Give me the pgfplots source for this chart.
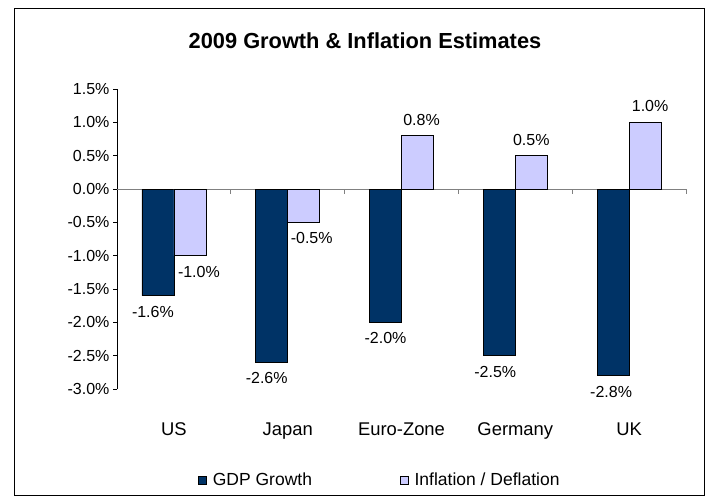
\documentclass[border=0pt]{standalone}
\usepackage{fontspec}
\setmainfont{Liberation Sans}
\usepackage{pgfplots}
\pgfplotsset{compat=1.18}
\usepackage{pgfplotstable}
\definecolor{gdpc}{HTML}{003366}
\definecolor{inflc}{HTML}{CCCCFF}

\pgfplotstableread{
x y dx
0 -1.6 -5
1 -2.6 -5
2 -2.0 0
3 -2.5 -4
4 -2.8 -2
}\gdptab
\pgfplotstableread{
x y dx
0 -1.0 9
1 -0.5 8
2 0.8 4
3 0.5 0
4 1.0 5
}\infltab

\begin{document}
\begin{tikzpicture}[x=1pt,y=1pt]
\path (0,0) rectangle (715,-501);
\draw[black, line width=1pt] (14,-8) rectangle (704,-495);
\node[font=\bfseries\fontsize{21.8}{26}\selectfont] at (365,-41) {2009 Growth \& Inflation Estimates};
\begin{axis}[
  at={(117pt,-389pt)}, anchor=south west,
  scale only axis, width=569pt, height=300pt,
  xmin=-0.5, xmax=4.5, ymin=-3, ymax=1.5,
  clip=false,
  axis x line*=bottom, axis y line*=left,
  x axis line style={draw=none},
  y axis line style={black, line width=0.8pt},
  xtick={0,1,2,3,4},
  xticklabels={US,Japan,Euro-Zone,Germany,UK},
  xtick style={draw=none},
  xticklabel style={font=\fontsize{18.4}{22}\selectfont, anchor=base, yshift=-42pt},
  ytick={-3,-2.5,-2,-1.5,-1,-0.5,0,0.5,1,1.5},
  ytick style={black, line width=0.8pt},
  tick align=outside, major tick length=4pt,
  /pgf/number format/assume math mode=true,
  yticklabel={\pgfmathprintnumber[fixed,fixed zerofill,precision=1]{\tick}\%},
  yticklabel style={font=\fontsize{16}{19}\selectfont},
  ybar=0pt, bar width=32pt,
  nodes near coords={\pgfmathprintnumber[fixed,fixed zerofill,precision=1]{\pgfplotspointmeta}\%},
  every node near coord/.append style={font=\fontsize{16}{19}\selectfont, inner ysep=10pt, black},
  legend columns=2,
  legend style={at={(0.462,-0.303)}, anchor=center, draw=none, fill=none,
    font=\fontsize{17.5}{21}\selectfont,
    /tikz/every odd column/.append style={column sep=4pt},
    /tikz/every even column/.append style={column sep=86pt}},
  sqleg/.style={legend image code/.code={\draw[##1,draw=black,line width=0.6pt] (0pt,-4pt) rectangle (8pt,4pt);}},
]
\draw[gray, line width=0.8pt] (axis cs:-0.5,0) -- (axis cs:4.5,0);
\pgfplotsinvokeforeach{0.5,1.5,2.5,3.5,4.5}{\draw[gray, line width=0.8pt] (axis cs:#1,0) -- ([yshift=-5pt]axis cs:#1,0);}
\addplot[fill=gdpc, draw=black, line width=0.7pt, sqleg,
  visualization depends on={\thisrow{dx}\as\dx},
  every node near coord/.append style={xshift=\dx pt}]
  table[x=x,y=y] {\gdptab};
\addlegendentry{GDP Growth}
\addplot[fill=inflc, draw=black, line width=0.7pt, sqleg,
  visualization depends on={\thisrow{dx}\as\dx},
  every node near coord/.append style={xshift=\dx pt}]
  table[x=x,y=y] {\infltab};
\addlegendentry{Inflation / Deflation}
\end{axis}
\end{tikzpicture}
\end{document}
